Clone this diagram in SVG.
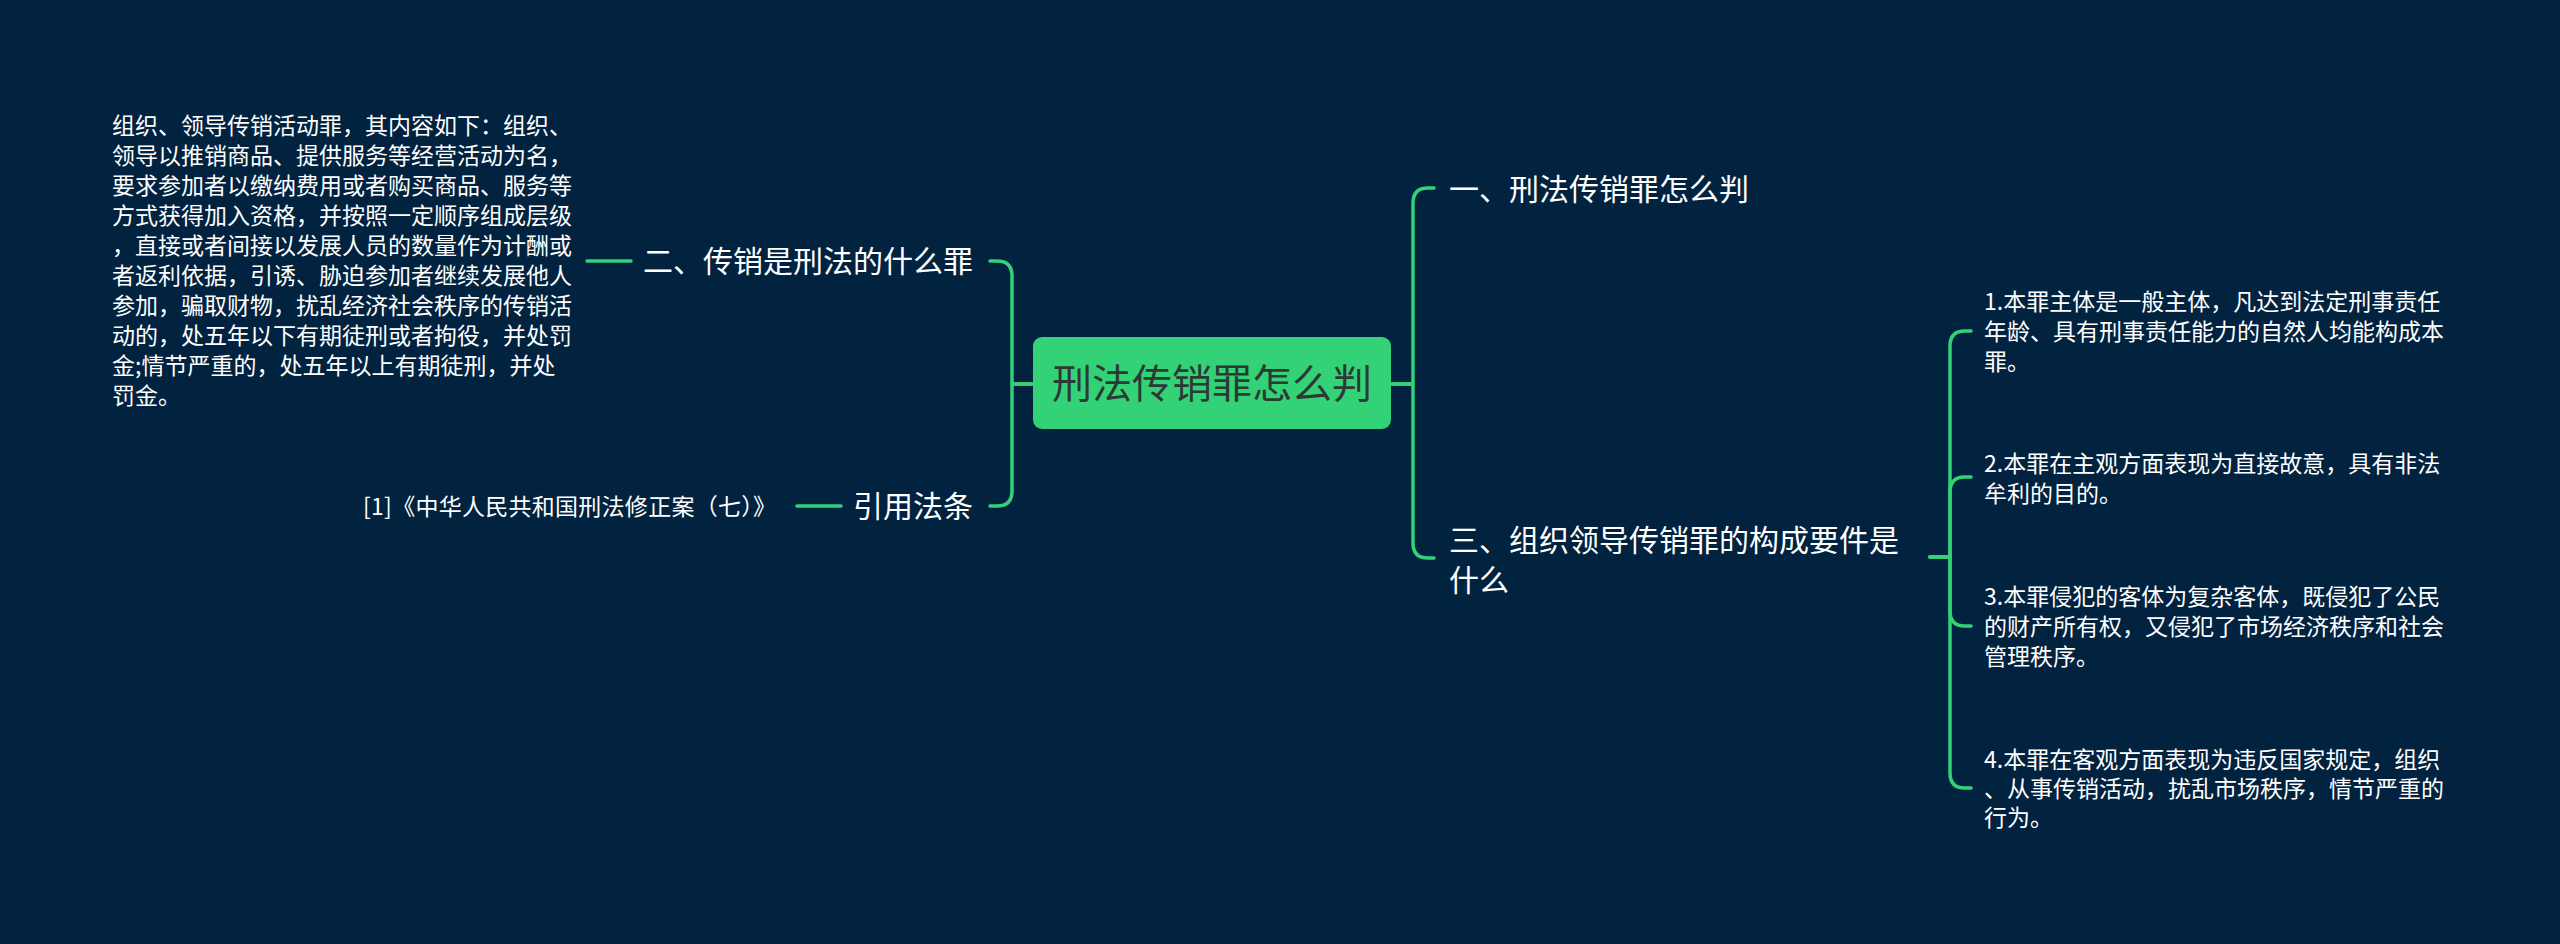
<svg xmlns="http://www.w3.org/2000/svg" width="2560" height="944" viewBox="0 0 2560 944">
<style>
.bg{fill:#022340}
.ln{fill:none;stroke:#35d07a;stroke-width:3.5;stroke-linecap:round;stroke-linejoin:round}
.t30{font-family:"Noto Sans CJK SC","Liberation Sans",sans-serif;font-size:30px;fill:#ffffff}
.t23{font-family:"Noto Sans CJK SC","Liberation Sans",sans-serif;font-size:23px;fill:#ffffff}
.root-t{font-family:"Noto Sans CJK SC","Liberation Sans",sans-serif;font-size:40px;fill:#2b3a35}
</style>
<rect class="bg" x="0" y="0" width="2560" height="944"/>
<g id="connectors">
<path class="ln" d="M1391 384 H1413 V203 Q1413 188 1428 188 H1434"/>
<path class="ln" d="M1391 384 H1413 V543 Q1413 558 1428 558 H1434"/>
<path class="ln" d="M1033 384 H1012 V276 Q1012 261 997 261 H990"/>
<path class="ln" d="M1033 384 H1012 V491 Q1012 506 997 506 H990"/>
<path class="ln" d="M631 261 H587"/>
<path class="ln" d="M841 506 H797"/>
<path class="ln" d="M1930 557 H1950 V346 Q1950 331 1965 331 H1971"/>
<path class="ln" d="M1930 557 H1950 V492 Q1950 477 1965 477 H1971"/>
<path class="ln" d="M1930 557 H1950 V611 Q1950 626 1965 626 H1971"/>
<path class="ln" d="M1930 557 H1950 V773 Q1950 788 1965 788 H1971"/>
</g>
<g id="root">
<rect x="1033" y="337" width="358" height="92" rx="9" fill="#33d276"/>
<text class="root-t" x="1212" y="398" text-anchor="middle">刑法传销罪怎么判</text>
</g>
<g id="n1">
<text class="t30" x="1449" y="200">一、刑法传销罪怎么判</text>
</g>
<g id="n3">
<text class="t30" x="1449" y="551">三、组织领导传销罪的构成要件是</text>
<text class="t30" x="1449" y="591">什么</text>
</g>
<g id="n2">
<text class="t30" x="973" y="272" text-anchor="end">二、传销是刑法的什么罪</text>
</g>
<g id="n4">
<text class="t30" x="973" y="517" text-anchor="end">引用法条</text>
</g>
<g id="n2a">
<text class="t23" x="112">
<tspan x="112" y="134">组织、领导传销活动罪，其内容如下：组织、</tspan>
<tspan x="112" y="164">领导以推销商品、提供服务等经营活动为名，</tspan>
<tspan x="112" y="194">要求参加者以缴纳费用或者购买商品、服务等</tspan>
<tspan x="112" y="224">方式获得加入资格，并按照一定顺序组成层级</tspan>
<tspan x="112" y="254">，直接或者间接以发展人员的数量作为计酬或</tspan>
<tspan x="112" y="284">者返利依据，引诱、胁迫参加者继续发展他人</tspan>
<tspan x="112" y="314">参加，骗取财物，扰乱经济社会秩序的传销活</tspan>
<tspan x="112" y="344">动的，处五年以下有期徒刑或者拘役，并处罚</tspan>
<tspan x="112" y="374">金;情节严重的，处五年以上有期徒刑，并处</tspan>
<tspan x="112" y="404">罚金。</tspan>
</text>
</g>
<g id="n4a">
<text class="t23" x="363" y="515" textLength="413" lengthAdjust="spacing">[1]《中华人民共和国刑法修正案（七）》</text>
</g>
<g id="n3a">
<text class="t23">
<tspan x="1984" y="310">1.本罪主体是一般主体，凡达到法定刑事责任</tspan>
<tspan x="1984" y="340">年龄、具有刑事责任能力的自然人均能构成本</tspan>
<tspan x="1984" y="370">罪。</tspan>
</text>
</g>
<g id="n3b">
<text class="t23">
<tspan x="1984" y="472">2.本罪在主观方面表现为直接故意，具有非法</tspan>
<tspan x="1984" y="502">牟利的目的。</tspan>
</text>
</g>
<g id="n3c">
<text class="t23">
<tspan x="1984" y="605">3.本罪侵犯的客体为复杂客体，既侵犯了公民</tspan>
<tspan x="1984" y="635">的财产所有权，又侵犯了市场经济秩序和社会</tspan>
<tspan x="1984" y="665">管理秩序。</tspan>
</text>
</g>
<g id="n3d">
<text class="t23">
<tspan x="1984" y="768">4.本罪在客观方面表现为违反国家规定，组织</tspan>
<tspan x="1984" y="797">、从事传销活动，扰乱市场秩序，情节严重的</tspan>
<tspan x="1984" y="826">行为。</tspan>
</text>
</g>
</svg>
